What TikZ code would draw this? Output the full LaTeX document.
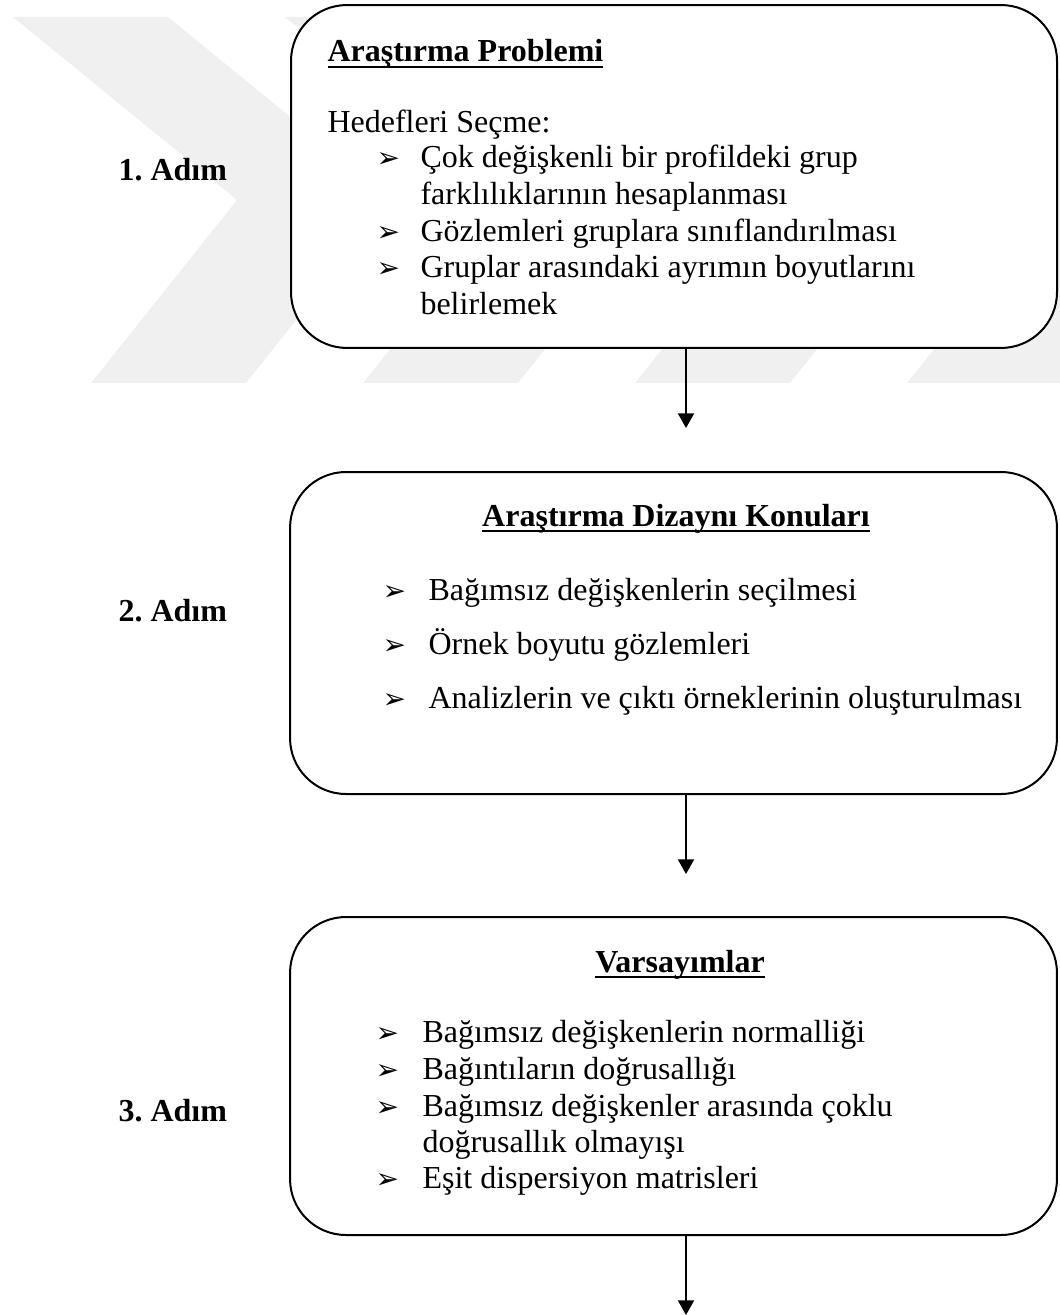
\documentclass[tikz,border=0pt]{standalone}
\usepackage{fontspec}
\setmainfont{Liberation Serif}
\newfontfamily\dejavu{DejaVu Sans}
\usetikzlibrary{arrows.meta}
\definecolor{wm}{HTML}{F0F0F0}
\newsavebox\ulbox
\newcommand\myuline[1]{\sbox\ulbox{#1}\rlap{\rule[-2.4pt]{\wd\ulbox}{0.75pt}}\usebox\ulbox}
\frenchspacing
\begin{document}
\begin{tikzpicture}[x=0.375pt,y=-0.375pt,
  stepbox/.style={draw=black, line width=0.75pt, fill=white, rounded corners=21pt, inner sep=0pt},
  txt/.style={anchor=base west, inner sep=0pt, font=\fontsize{12}{13.8}\selectfont},
  ttl/.style={anchor=base west, inner sep=0pt, font=\fontsize{12}{13.8}\selectfont\bfseries},
  ttlc/.style={anchor=base, inner sep=0pt, font=\fontsize{12}{13.8}\selectfont\bfseries},
  adim/.style={anchor=base west, inner sep=0pt, font=\fontsize{12}{13.8}\selectfont\bfseries},
  bul/.style={anchor=base west, inner sep=0pt, font=\dejavu\fontsize{10.5}{11}\selectfont},
  arr/.style={line width=0.75pt, -{Triangle[width=6pt,length=5.5pt]}}
]
\useasboundingbox (0,0) rectangle (1060,1315);
\begin{scope}
\clip (0,0) rectangle (1060,1315);
% faint watermark chevrons
\foreach \k in {0,1,2,3}{
  \fill[wm] ({13+272*\k},17) -- ({168+272*\k},17) -- ({392+272*\k},200)
    -- ({246+272*\k},383) -- ({91+272*\k},383) -- ({237+272*\k},200) -- cycle;
}
\end{scope}

% boxes
\node[stepbox, minimum width=287.25pt, minimum height=128.6pt] (box1) at (674,176.5) {};
\node[stepbox, minimum width=287.6pt, minimum height=120.75pt] (box2) at (673.5,633) {};
\node[stepbox, minimum width=287.6pt, minimum height=119.25pt] (box3) at (673.5,1076) {};

% step labels
\node[adim] (s1) at (118,181) {1. Adım};
\node[adim] (s2) at (118,621) {2. Adım};
\node[adim] (s3) at (118,1121) {3. Adım};

% box 1 content
\node[ttl] (t1) at (327,62) {\myuline{Araştırma Problemi}};
\node[txt] (h1) at (327,133) {Hedefleri Seçme:};
\node[bul] (m11) at (376,168) {➢};
\node[txt] (x11) at (420,168) {Çok değişkenli bir profildeki grup};
\node[txt] (x12) at (420,205) {farklılıklarının hesaplanması};
\node[bul] (m12) at (376,242) {➢};
\node[txt] (x13) at (420,242) {Gözlemleri gruplara sınıflandırılması};
\node[bul] (m13) at (376,278) {➢};
\node[txt] (x14) at (420,278) {Gruplar arasındaki ayrımın boyutlarını};
\node[txt] (x15) at (420,315) {belirlemek};

% box 2 content
\node[ttlc] (t2) at (676,526) {\myuline{Araştırma Dizaynı Konuları}};
\node[bul] (m21) at (382,600) {➢};
\node[txt] (x21) at (428,600) {Bağımsız değişkenlerin seçilmesi};
\node[bul] (m22) at (382,654) {➢};
\node[txt] (x22) at (428,654) {Örnek boyutu gözlemleri};
\node[bul] (m23) at (382,708) {➢};
\node[txt] (x23) at (428,708) {Analizlerin ve çıktı örneklerinin oluşturulması};

% box 3 content
\node[ttlc] (t3) at (680,972) {\myuline{Varsayımlar}};
\node[bul] (m31) at (375,1042) {➢};
\node[txt] (x31) at (422,1042) {Bağımsız değişkenlerin normalliği};
\node[bul] (m32) at (375,1079) {➢};
\node[txt] (x32) at (422,1079) {Bağıntıların doğrusallığı};
\node[bul] (m33) at (375,1116) {➢};
\node[txt] (x33) at (422,1116) {Bağımsız değişkenler arasında çoklu};
\node[txt] (x34) at (422,1152) {doğrusallık olmayışı};
\node[bul] (m35) at (375,1188) {➢};
\node[txt] (x35) at (422,1188) {Eşit dispersiyon matrisleri};

% connectors
\coordinate (a1) at (686,428);
\coordinate (a2) at (686,874);
\coordinate (a3) at (686,1315);
\draw[arr] (box1.south -| a1) -- (a1);
\draw[arr] (box2.south -| a2) -- (a2);
\draw[arr] (box3.south -| a3) -- (a3);
\end{tikzpicture}
\end{document}
